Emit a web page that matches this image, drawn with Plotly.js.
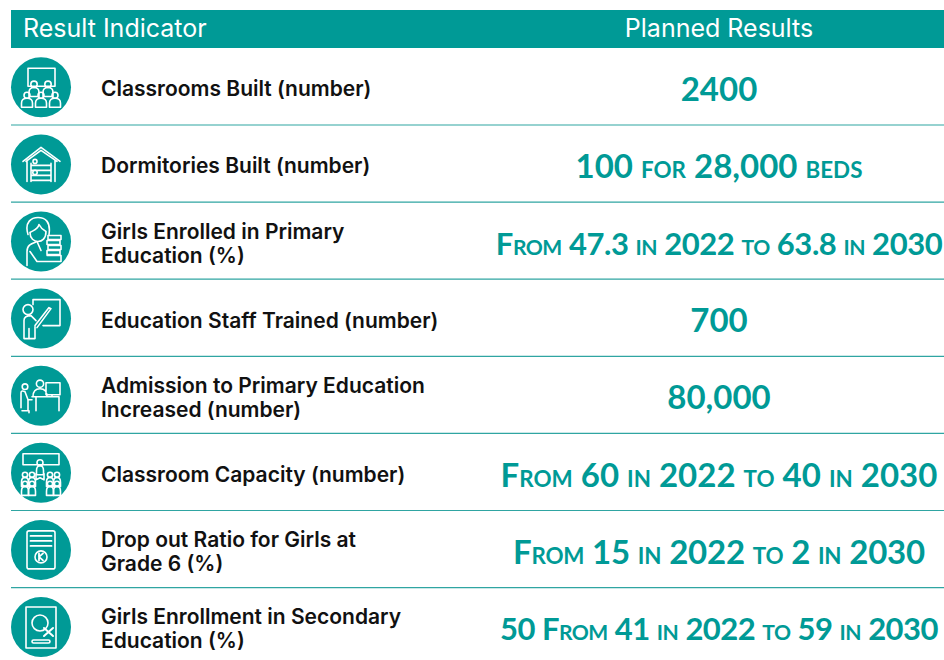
<!DOCTYPE html>
<html><head><meta charset="utf-8">
<script src="https://cdn.plot.ly/plotly-3.0.1.min.js"></script>
<style>html,body{margin:0;padding:0;background:#fff}</style></head>
<body><div id="chart" style="width:944px;height:660px"></div>
<script>
const headers = ["Result Indicator", "Planned Results"];
const indicators = [
  ["Classrooms Built (number)"],
  ["Dormitories Built (number)"],
  ["Girls Enrolled in Primary", "Education (%)"],
  ["Education Staff Trained (number)"],
  ["Admission to Primary Education", "Increased (number)"],
  ["Classroom Capacity (number)"],
  ["Drop out Ratio for Girls at", "Grade 6 (%)"],
  ["Girls Enrollment in Secondary", "Education (%)"]
];
const planned = [
  "2400",
  "100 for 28,000 beds",
  "From 47.3 in 2022 to 63.8 in 2030",
  "700",
  "80,000",
  "From 60 in 2022 to 40 in 2030",
  "From 15 in 2022 to 2 in 2030",
  "50 From 41 in 2022 to 59 in 2030"
];

const TEAL = "#009a96", RULE = "#2fa5a2";
const rowTop = 87.3, pitch = 77.1;
const rows = indicators.map((_, i) => rowTop + i * pitch);
const valueSize = [33, 33, 31, 33, 33, 33, 33, 31];
const valueTrack = [0, 0, -0.45, 0, 0, 0, -0.2, -0.5];

function smallCaps(s, size, track) {
  const t = s.replace(/[a-z]+/g, m => `<span style="font-size:${(size * 0.68).toFixed(1)}px">${m.toUpperCase()}</span>`);
  return track ? `<span style="letter-spacing:${track}px">${t}</span>` : t;
}

const labelX = [], labelY = [], labelText = [];
indicators.forEach((lines, i) => lines.forEach((line, j) => {
  labelX.push(101);
  labelY.push(rows[i] + 3.8 + (j - (lines.length - 1) / 2) * 24);
  labelText.push(line);
}));

const person = (x, y, r, w) =>
  `<circle cx="${x}" cy="${y}" r="${r}"/><path d="M${x - w},${y + r + 9} v-4 q0,-5 ${w},-5 q${w},0 ${w},5 v4 z"/>`;
const iconBodies = [
  `<rect x="17" y="11" width="27" height="18"/>` + person(23, 27, 3.2, 5) + person(37, 27, 3.2, 5) + person(16, 38, 3, 5.5) + person(30, 38, 3, 5.5) + person(44, 38, 3, 5.5),
  `<path d="M12,27 L30,13 L49,27 M15,27 L30,16 L46,27 M16,26 V47 M44,26 V47 M20,29 V47 M40,29 V47 M20,31 H40 M20,36 H40 M20,41 H40 M20,46 H40"/><circle cx="24" cy="27" r="2"/><circle cx="24" cy="38" r="2.2"/>`,
  `<path d="M17,23 C13,10 21,6 27,6 C34,6 40,10 38,23 M19,21 C22,19 27,18 28,13 C30,17 33,19 35,20 C35,27 31,30 27,30 C23,30 19,27 19,21 M16,54 V40 C16,33 21,32 26,30 L30,39 M19,40 L26,50 H38 M37,24 H50 V28 H37 Z M36,29 H49 V33 H36 Z M37,34 H50 V38 H37 Z M36,39 H49 V43 H36 Z M36,44 H50 V50 H36"/>`,
  `<path d="M22,11 H49 V37 H32 M22,11 V16 M24,37 L38,19 L40,20 L26,39 M13,50 V32 C13,28 16,27 20,27 L25,32 M24,38 V50 M13,50 H24 M18,40 V50"/><circle cx="17" cy="21" r="5"/>`,
  `<circle cx="14" cy="21" r="2.8"/><path d="M10,42 V27 C10,25 12,25 14,26 L17,34 H21 M17,34 V45 H11 M18,45 V47"/><circle cx="29" cy="18" r="3.6"/><path d="M22,31 C22,25 25,23 29,23 C33,23 36,25 36,31 M35,17 H49 V29 H35 Z M41,29 V31 M21,31 H48 V45 M25,31 V45"/>`,
  `<rect x="12" y="11" width="36" height="11"/>` + person(29, 20, 3, 3.5) + `<path d="M25,31 V37 L29,35 L33,37 V31"/>` + person(14, 32, 2.6, 3.5) + person(21, 32, 2.6, 3.5) + person(39, 32, 2.6, 3.5) + person(46, 32, 2.6, 3.5) + person(14, 41, 2.6, 3.5) + person(21, 41, 2.6, 3.5) + person(39, 41, 2.6, 3.5) + person(46, 41, 2.6, 3.5),
  `<rect x="16" y="11" width="28" height="38" rx="2"/><path d="M19.5,16 H40.5 M19.5,21 H40.5 M19.5,26 H40.5" stroke-width="1.8"/><circle cx="30" cy="37" r="6"/><path d="M28,33.5 V40.5 M28,37 L32,33.5 M28,37 L32,40.5" stroke-width="1.8"/>`,
  `<rect x="15" y="10" width="30" height="41"/><circle cx="29" cy="26" r="8"/><path d="M33,31 L42,39 M42,31 L33,39" stroke-width="2"/><rect x="21" y="43" width="18" height="3" rx="1.5"/>`
];
const iconUri = body => "data:image/svg+xml;utf8," + encodeURIComponent(
  `<svg xmlns="http://www.w3.org/2000/svg" width="240" height="240" viewBox="0 0 60 60"><g fill="none" stroke="#ffffff" stroke-width="1.6" stroke-linejoin="round" stroke-linecap="round">${body}</g></svg>`);

const traces = [
  { type: "scatter", mode: "markers", x: rows.map(() => 41), y: rows, hoverinfo: "skip",
    marker: { size: 60, color: TEAL, line: { width: 0 } } },
  { type: "scatter", mode: "text", x: [23], y: [31], text: [headers[0]], textposition: "middle right", hoverinfo: "skip",
    textfont: { family: "Inter", size: 25, color: "#ffffff", weight: 400 } },
  { type: "scatter", mode: "text", x: [719], y: [31], text: [headers[1]], textposition: "middle center", hoverinfo: "skip",
    textfont: { family: "Inter", size: 25, color: "#ffffff", weight: 400 } },
  { type: "scatter", mode: "text", x: labelX, y: labelY, text: labelText, textposition: "middle right", hoverinfo: "skip",
    textfont: { family: "Inter", size: 21, color: "#111111", weight: 600 } },
  { type: "scatter", mode: "text", x: rows.map(() => 719), y: rows.map(y => y + 5.5),
    text: planned.map((s, i) => smallCaps(s, valueSize[i], valueTrack[i])), textposition: "middle center", hoverinfo: "skip",
    textfont: { family: "Lato", size: valueSize, color: TEAL, weight: 700 } }
];

const shapes = [
  { type: "rect", xref: "x", yref: "y", x0: 11, x1: 944, y0: 10, y1: 48, fillcolor: TEAL, line: { width: 0 }, layer: "below" }
].concat(rows.slice(0, -1).map(y => ({
  type: "line", xref: "x", yref: "y", x0: 11, x1: 944, y0: y + 37.7, y1: y + 37.7, line: { color: RULE, width: 1.2 }, layer: "below"
})));

const images = iconBodies.map((b, i) => ({
  source: iconUri(b), xref: "x", yref: "y", x: 41, y: rows[i], sizex: 60, sizey: 60,
  xanchor: "center", yanchor: "middle", sizing: "contain", layer: "above"
}));

const hidden = { visible: false, fixedrange: true, showgrid: false, zeroline: false };
Plotly.newPlot("chart", traces, {
  width: 944, height: 660, margin: { l: 0, r: 0, t: 0, b: 0 }, showlegend: false,
  paper_bgcolor: "#ffffff", plot_bgcolor: "#ffffff",
  xaxis: Object.assign({ range: [0, 944] }, hidden),
  yaxis: Object.assign({ range: [660, 0] }, hidden),
  shapes, images
}, { displayModeBar: false, staticPlot: true });
</script></body></html>
